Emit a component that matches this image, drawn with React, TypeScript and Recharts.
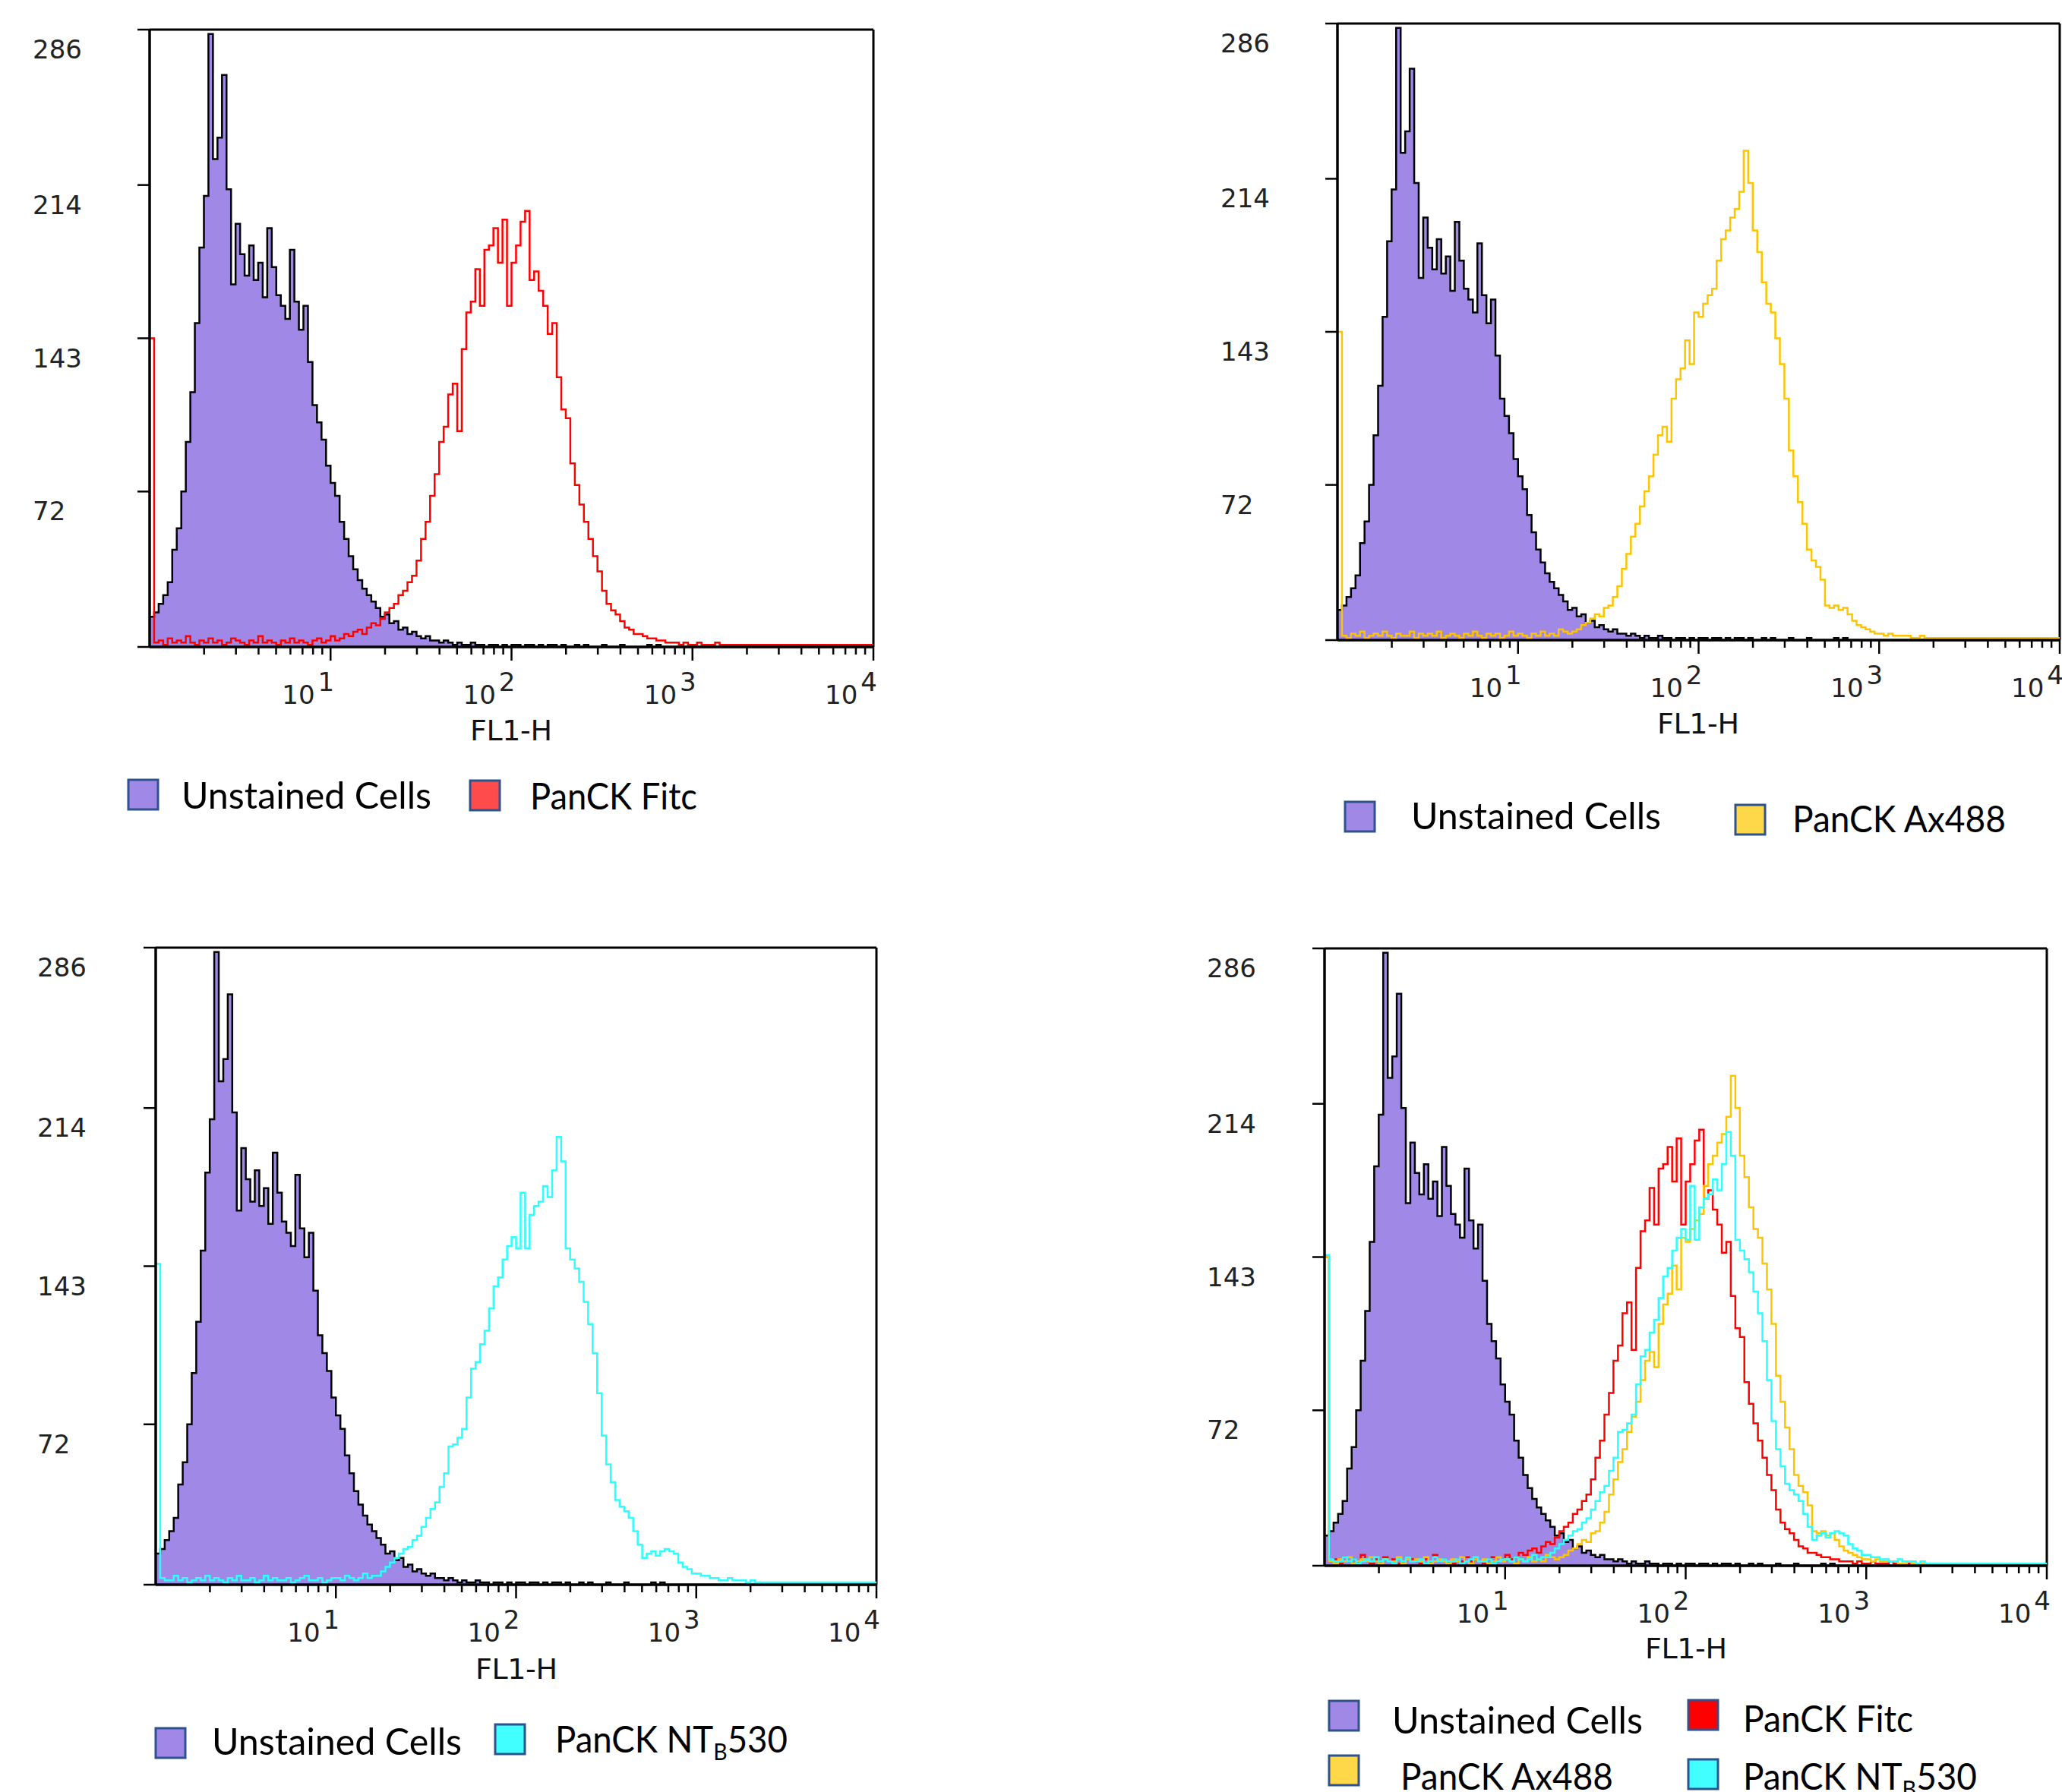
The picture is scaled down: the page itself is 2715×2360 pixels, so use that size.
import { ComposedChart, Area, Line, XAxis, YAxis, ReferenceLine } from 'recharts'

// flow histogram, 40 channels per decade, FL1-H from 10^0 to 10^4 (161 bin edges)
const CHANNELS_PER_DECADE = 40

const UNSTAINED = [
  14, 16, 20, 24, 30, 45, 55, 72, 95, 118,
  150, 185, 209, 284, 226, 236, 265, 212, 168, 196,
  182, 172, 186, 170, 178, 162, 194, 176, 163, 158,
  152, 184, 160, 147, 158, 132, 112, 104, 96, 84,
  76, 70, 58, 50, 42, 36, 31, 27, 24, 21,
  18, 14, 15, 11, 12, 8, 9, 6, 7, 5,
  4, 5, 3, 3, 2, 3, 2, 1, 2, 1,
  1, 2, 1, 1, 0, 1, 1, 0, 1, 0,
  1, 1, 0, 1, 1, 0, 1, 0, 1, 1,
  0, 1, 0, 0, 1, 0, 1, 0, 0, 0,
  1, 0, 0, 0, 1, 0, 0, 0, 0, 0,
  1, 0, 1, 0, 0, 0, 0, 0, 0, 0,
  0, 0, 0, 0, 0, 0, 0, 0, 0, 0,
  0, 0, 0, 0, 0, 0, 0, 0, 0, 0,
  0, 0, 0, 0, 0, 0, 0, 0, 0, 0,
  0, 0, 0, 0, 0, 0, 0, 0, 0, 0,
  0,
]

const PANCK_FITC = [
  143, 2, 3, 1, 4, 2, 3, 2, 5, 2,
  1, 3, 2, 4, 2, 3, 1, 2, 4, 3,
  2, 1, 3, 2, 5, 2, 3, 2, 1, 3,
  2, 4, 2, 3, 2, 1, 3, 4, 2, 3,
  5, 3, 4, 6, 5, 7, 8, 6, 9, 11,
  10, 13, 16, 18, 20, 24, 26, 30, 33, 40,
  50, 58, 70, 80, 95, 102, 117, 122, 100, 138,
  155, 160, 175, 158, 184, 186, 194, 178, 198, 158,
  178, 186, 197, 202, 170, 174, 165, 158, 145, 150,
  125, 110, 106, 85, 75, 66, 58, 50, 42, 35,
  26, 20, 17, 15, 12, 9, 8, 6, 6, 5,
  4, 4, 3, 3, 2, 2, 2, 1, 2, 1,
  1, 2, 1, 1, 1, 2, 1, 1, 1, 1,
  1, 1, 1, 1, 1, 1, 1, 1, 1, 1,
  1, 1, 1, 1, 1, 1, 1, 1, 1, 1,
  1, 1, 1, 1, 1, 1, 1, 1, 1, 1,
  1,
]

const PANCK_AX488 = [
  143, 2, 1, 3, 2, 4, 1, 2, 3, 2,
  4, 2, 1, 3, 2, 2, 4, 1, 3, 2,
  3, 2, 4, 1, 2, 3, 2, 1, 3, 2,
  4, 2, 1, 3, 2, 3, 1, 2, 4, 2,
  3, 2, 1, 3, 2, 4, 2, 3, 2, 5,
  4, 3, 4, 5, 7, 8, 10, 12, 11, 15,
  16, 20, 25, 33, 40, 48, 54, 62, 69, 76,
  86, 95, 99, 92, 112, 121, 126, 139, 128, 152,
  150, 156, 160, 163, 176, 186, 190, 196, 200, 208,
  227, 212, 190, 180, 166, 156, 152, 140, 128, 112,
  88, 76, 64, 54, 42, 37, 34, 28, 16, 15,
  16, 14, 15, 12, 9, 7, 6, 5, 4, 3,
  3, 2, 3, 2, 2, 2, 2, 1, 1, 2,
  1, 1, 1, 1, 1, 1, 1, 1, 1, 1,
  1, 1, 1, 1, 1, 1, 1, 1, 1, 1,
  1, 1, 1, 1, 1, 1, 1, 1, 1, 1,
  1,
]

const PANCK_NT530 = [
  144, 3, 2, 2, 4, 2, 3, 1, 2, 3,
  2, 4, 2, 3, 2, 1, 3, 2, 4, 2,
  2, 3, 1, 2, 4, 2, 3, 2, 2, 3,
  1, 2, 3, 4, 2, 2, 3, 1, 2, 3,
  3, 2, 4, 3, 2, 3, 5, 3, 4, 4,
  6, 8, 10, 12, 14, 16, 17, 20, 22, 26,
  30, 34, 37, 44, 50, 62, 63, 66, 70, 84,
  97, 100, 108, 114, 124, 134, 138, 146, 152, 156,
  151, 176, 151, 166, 170, 172, 179, 174, 186, 201,
  190, 151, 146, 142, 136, 127, 117, 104, 86, 67,
  54, 46, 38, 35, 33, 30, 24, 18, 12, 14,
  15, 13, 15, 16, 15, 14, 10, 8, 7, 5,
  5, 4, 4, 3, 3, 2, 2, 3, 2, 2,
  2, 1, 2, 1, 1, 1, 1, 1, 1, 1,
  1, 1, 1, 1, 1, 1, 1, 1, 1, 1,
  1, 1, 1, 1, 1, 1, 1, 1, 1, 1,
  1,
]

const X_TICKS = [
  2, 3, 4, 5, 6, 7, 8, 9, 10,
  20, 30, 40, 50, 60, 70, 80, 90, 100,
  200, 300, 400, 500, 600, 700, 800, 900, 1000,
  2000, 3000, 4000, 5000, 6000, 7000, 8000, 9000, 10000,
]
const Y_TICKS = [0, 72, 143, 214, 286]
const Y_MAX = 286

const ROWS = UNSTAINED.map((u, i) => ({
  fl1: Math.pow(10, i / CHANNELS_PER_DECADE),
  unstained: u,
  fitc: PANCK_FITC[i],
  ax488: PANCK_AX488[i],
  nt530: PANCK_NT530[i],
}))

const COLORS = {
  unstainedFill: '#9F88E6',
  fitc: '#FF0000',
  ax488: '#FFC400',
  nt530: '#2BFFFF',
}

const SWATCH = {
  unstained: '#9F88E6',
  fitcLight: '#FF4B4B',
  fitc: '#FF0000',
  ax488: '#FFD84A',
  nt530: '#41FFFF',
}

type SeriesKey = 'fitc' | 'ax488' | 'nt530'

const AXIS_FONT = '"DejaVu Sans", sans-serif'
const LEGEND_FONT = 'Lato, "Open Sans", sans-serif'

function XTick({ x, y, payload }: any) {
  const v = payload.value
  const lg = Math.log10(v)
  const exp = Math.round(lg)
  const major = Math.abs(lg - exp) < 1e-6
  return (
    <g>
      <line x1={x} x2={x} y1={y} y2={y + (major ? 18 : 10)} stroke="#000" strokeWidth={2.5} />
      {major && exp > 0 && (
        <text x={x + 5} y={y + 75} textAnchor="end" fontFamily={AXIS_FONT} fontSize={34} fill="#222">
          10<tspan dx={4} dy={-17}>{exp}</tspan>
        </text>
      )}
    </g>
  )
}

function YTick({ x, y, payload, labelX }: any) {
  return (
    <g>
      <line x1={x - 16} x2={x} y1={y} y2={y} stroke="#000" strokeWidth={2.5} />
      {payload.value > 0 && (
        <text x={labelX} y={y + 38} fontFamily={AXIS_FONT} fontSize={34} fill="#222">
          {payload.value}
        </text>
      )}
    </g>
  )
}

type PanelProps = {
  chartLeft: number
  chartTop: number
  plotLeft: number
  plotTop: number
  plotRight: number
  plotBottom: number
  labelX: number
  series: SeriesKey[]
}

function Histogram({ chartLeft, chartTop, plotLeft, plotTop, plotRight, plotBottom, labelX, series }: PanelProps) {
  const rightPad = Math.min(10, 2715 - plotRight)
  const width = plotRight - chartLeft + rightPad
  const height = plotBottom - chartTop + 100
  return (
    <div style={{ position: 'absolute', left: chartLeft, top: chartTop }}>
      <ComposedChart
        width={width}
        height={height}
        data={ROWS}
        margin={{ top: plotTop - chartTop, right: rightPad, bottom: 0, left: 0 }}
      >
        <XAxis
          type="number"
          dataKey="fl1"
          scale="log"
          domain={[1, 10000]}
          allowDataOverflow
          ticks={X_TICKS}
          interval={0}
          tickSize={0}
          tickMargin={0}
          tickLine={false}
          tick={(p: any) => <XTick {...p} />}
          height={100}
          axisLine={{ stroke: '#000', strokeWidth: 3.5 }}
        />
        <YAxis
          type="number"
          domain={[0, Y_MAX]}
          ticks={Y_TICKS}
          interval={0}
          tickSize={0}
          tickMargin={0}
          tickLine={false}
          tick={(p: any) => <YTick {...p} labelX={labelX - chartLeft} />}
          width={plotLeft - chartLeft}
          axisLine={{ stroke: '#000', strokeWidth: 3.5 }}
        />
        <ReferenceLine y={Y_MAX} stroke="#000" strokeWidth={3} />
        <ReferenceLine x={10000} stroke="#000" strokeWidth={3} />
        <Area
          dataKey="unstained"
          type="stepAfter"
          fill={COLORS.unstainedFill}
          fillOpacity={1}
          stroke="#000"
          strokeWidth={2.5}
          dot={false}
          activeDot={false}
          isAnimationActive={false}
        />
        {series.map((k) => (
          <Line
            key={k}
            dataKey={k}
            type="stepAfter"
            stroke={COLORS[k]}
            strokeWidth={2.5}
            dot={false}
            activeDot={false}
            isAnimationActive={false}
          />
        ))}
      </ComposedChart>
    </div>
  )
}

function Swatch({ x, y, fill }: { x: number; y: number; fill: string }) {
  return <rect x={x} y={y} width={39} height={39} fill={fill} stroke="#2F528F" strokeWidth={3} />
}

function LegendText({ x, y, w, children }: any) {
  return (
    <text x={x} y={y} textLength={w} lengthAdjust="spacingAndGlyphs" fontFamily={LEGEND_FONT} fontSize={48} fill="#000">
      {children}
    </text>
  )
}

const NT530 = (
  <>
    PanCK NT<tspan dy={10} fontSize={30}>B</tspan>
    <tspan dy={-10}>530</tspan>
  </>
)

function AxisTitle({ cx, y }: { cx: number; y: number }) {
  return (
    <text x={cx} y={y} textAnchor="middle" fontFamily={AXIS_FONT} fontSize={38} textLength={108} lengthAdjust="spacing" fill="#111">
      FL1-H
    </text>
  )
}

export default function App() {
  return (
    <div style={{ position: 'absolute', left: 0, top: 0, width: 2715, height: 2360, background: '#fff', overflow: 'hidden' }}>
      <Histogram chartLeft={0} chartTop={0} plotLeft={197} plotTop={39} plotRight={1150} plotBottom={852} labelX={43} series={['fitc']} />
      <Histogram chartLeft={1560} chartTop={0} plotLeft={1761} plotTop={31} plotRight={2712} plotBottom={843} labelX={1607} series={['ax488']} />
      <Histogram chartLeft={0} chartTop={1200} plotLeft={205} plotTop={1248} plotRight={1154} plotBottom={2087} labelX={49} series={['nt530']} />
      <Histogram chartLeft={1560} chartTop={1200} plotLeft={1744} plotTop={1249} plotRight={2695} plotBottom={2062} labelX={1589} series={['fitc', 'ax488', 'nt530']} />

      <svg width={2715} height={2360} style={{ position: 'absolute', left: 0, top: 0, pointerEvents: 'none' }}>
        <AxisTitle cx={673} y={975} />
        <AxisTitle cx={2236} y={966} />
        <AxisTitle cx={680} y={2211} />
        <AxisTitle cx={2220} y={2184} />

        {/* top left */}
        <Swatch x={169} y={1027} fill={SWATCH.unstained} />
        <LegendText x={239} y={1065} w={329}>Unstained Cells</LegendText>
        <Swatch x={619} y={1028} fill={SWATCH.fitcLight} />
        <LegendText x={698} y={1066} w={220}>PanCK Fitc</LegendText>

        {/* top right */}
        <Swatch x={1771} y={1056} fill={SWATCH.unstained} />
        <LegendText x={1858} y={1092} w={329}>Unstained Cells</LegendText>
        <Swatch x={2285} y={1060} fill={SWATCH.ax488} />
        <LegendText x={2360} y={1096} w={281}>PanCK Ax488</LegendText>

        {/* bottom left */}
        <Swatch x={205} y={2276} fill={SWATCH.unstained} />
        <LegendText x={279} y={2311} w={329}>Unstained Cells</LegendText>
        <Swatch x={652} y={2271} fill={SWATCH.nt530} />
        <LegendText x={731} y={2308} w={306}>{NT530}</LegendText>

        {/* bottom right */}
        <Swatch x={1750} y={2240} fill={SWATCH.unstained} />
        <LegendText x={1833} y={2283} w={330}>Unstained Cells</LegendText>
        <Swatch x={2223} y={2239} fill={SWATCH.fitc} />
        <LegendText x={2295} y={2281} w={224}>PanCK Fitc</LegendText>
        <Swatch x={1750} y={2312} fill={SWATCH.ax488} />
        <LegendText x={1844} y={2357} w={280}>PanCK Ax488</LegendText>
        <Swatch x={2223} y={2317} fill={SWATCH.nt530} />
        <LegendText x={2295} y={2357} w={308}>{NT530}</LegendText>
      </svg>
    </div>
  )
}
